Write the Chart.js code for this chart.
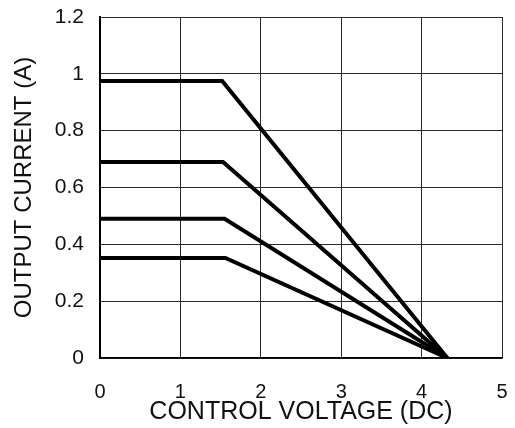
<!DOCTYPE html>
<html>
<head>
<meta charset="utf-8">
<script src="https://cdn.jsdelivr.net/npm/chart.js@4"></script>
<style>
  html, body { margin: 0; padding: 0; background: #fff; }
  #wrap { width: 515px; height: 428px; }
</style>
</head>
<body>
<div id="wrap"><canvas id="chart" width="515" height="428"></canvas></div>
<script>
// control voltage (V) at the knee and at cut-off, output current levels (A)
const kneeVoltage = [1.52, 1.53, 1.55, 1.56];
const cutoffVoltage = [4.32, 4.32, 4.32, 4.32];
const currentLevels = [0.975, 0.69, 0.49, 0.352];
const xTicks = [0, 1, 2, 3, 4, 5];
const yTicks = [0, 0.2, 0.4, 0.6, 0.8, 1, 1.2];

const datasets = currentLevels.map((level, i) => ({
  data: [
    { x: 0, y: level },
    { x: kneeVoltage[i], y: level },
    { x: cutoffVoltage[i], y: 0 }
  ],
  borderColor: '#000',
  borderWidth: 4,
  pointRadius: 0,
  tension: 0,
  fill: false
}));

const fam = 'Liberation Sans, Arial, sans-serif';

const ctx = document.getElementById('chart').getContext('2d');
new Chart(ctx, {
  type: 'line',
  data: { datasets: datasets },
  options: {
    responsive: false,
    animation: false,
    layout: { padding: { left: 0, right: 13, top: 17, bottom: 0 } },
    plugins: { legend: { display: false }, tooltip: { enabled: false } },
    scales: {
      x: {
        type: 'linear',
        min: 0,
        max: 5,
        afterBuildTicks: axis => { axis.ticks = xTicks.map(v => ({ value: v })); },
        afterFit: axis => { axis.height = 70; axis.paddingLeft = 0; axis.paddingRight = 0; },
        ticks: { color: '#111', font: { family: fam, size: 20 }, padding: 22 },
        grid: { color: '#2a2a2a', lineWidth: 1, drawTicks: false },
        border: { color: '#000', width: 1.5 },
        title: { display: true, text: 'CONTROL VOLTAGE (DC)', color: '#111', font: { family: fam, size: 25 }, padding: { top: 0, bottom: 1 } }
      },
      y: {
        min: 0,
        max: 1.2,
        afterBuildTicks: axis => { axis.ticks = yTicks.map(v => ({ value: v })); },
        afterFit: axis => { axis.width = 100; axis.paddingTop = 0; axis.paddingBottom = 0; },
        ticks: { color: '#111', font: { family: fam, size: 21 }, padding: 16, callback: v => String(v) },
        grid: { color: '#2a2a2a', lineWidth: 1, drawTicks: false },
        border: { color: '#000', width: 2 },
        title: { display: true, text: 'OUTPUT CURRENT (A)', color: '#111', font: { family: fam, size: 24 }, padding: { top: 10, bottom: 0 } }
      }
    }
  }
});
</script>
</body>
</html>
